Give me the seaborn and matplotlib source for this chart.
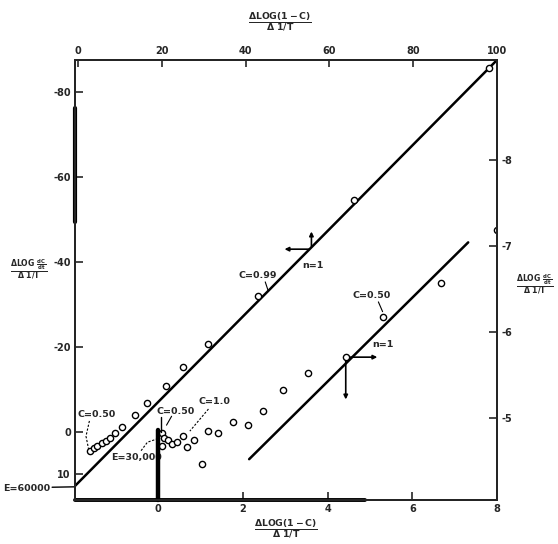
import matplotlib
matplotlib.use("Agg")
import matplotlib.pyplot as plt
import seaborn as sns
import pandas as pd

# series (bottom x scale, left y scale)
upper_x = [-1.60, -1.51, -1.43, -1.33, -1.23, -1.13, -1.01, -0.86, -0.54, -0.27,
           0.19, 0.60, 1.19, 2.37, 4.62, 7.81]
upper_y = [4.4, 3.8, 3.3, 2.6, 2.1, 1.4, 0.2, -1.2, -4.0, -6.9,
           -10.7, -15.3, -20.7, -32.1, -54.6, -85.6]
lower_x = [0.09, 0.13, 0.09, 0.24, 0.32, 0.44, 0.60, 0.68, 0.86, 1.03, 1.19,
           1.41, 1.76, 2.13, 2.47, 2.94, 3.54, 4.43, 5.31, 6.67, 8.0]
lower_y = [0.3, 1.5, 3.3, 1.9, 2.8, 2.3, 0.9, 3.6, 2.0, 7.5, -0.3,
           0.2, -2.4, -1.6, -5.0, -9.9, -13.9, -17.6, -27.1, -35.0, -47.5]

# fitted lines (n=1)
fit_upper_x = [-1.98, 8.0]
fit_upper_y = [12.9, -87.5]
fit_lower_x = [2.15, 7.32]
fit_lower_y = [6.4, -44.6]

bottom_ticks = [0, 2, 4, 6, 8]
left_ticks = [-80, -60, -40, -20, 0, 10]
top_ticks = [0, 20, 40, 60, 80, 100]
right_ticks = [-8, -7, -6, -5]

sns.set_theme(style="ticks")
plt.rcParams["font.family"] = ["DejaVu Sans"]
plt.rcParams["font.weight"] = "bold"
plt.rcParams["mathtext.default"] = "bf"

fig = plt.figure(figsize=(5.58, 5.44), dpi=100)
ax = fig.add_axes([0.1344, 0.0809, 0.7563, 0.8088])

pts = pd.DataFrame({"x": upper_x + lower_x, "y": upper_y + lower_y})
sns.scatterplot(data=pts, x="x", y="y", ax=ax, s=20, marker="o",
                facecolor="white", edgecolor="black", linewidth=1.0, zorder=4)
sns.lineplot(x=fit_upper_x, y=fit_upper_y, ax=ax, color="black", lw=1.8, zorder=3)
sns.lineplot(x=fit_lower_x, y=fit_lower_y, ax=ax, color="black", lw=1.8, zorder=3)

ax.set_xlim(-1.96, 8.0)
ax.set_ylim(16, -87.5)
ax.set_xticks(bottom_ticks)
ax.set_yticks(left_ticks)
ax.set_yticklabels([str(t) for t in left_ticks])
ax.tick_params(direction="in", length=6, width=1.2, labelsize=7, pad=3)
ax.set_xlabel("")
ax.set_ylabel("")
for s in ax.spines.values():
    s.set_linewidth(1.4)
    s.set_color("black")

# top and right scales
axt = ax.twiny()
axt.set_xlim(-0.7, 100)
axt.set_xticks(top_ticks)
axt.tick_params(direction="in", length=5, width=1.2, labelsize=7, pad=3)
axr = ax.twinx()
axr.set_ylim(-4.047, -9.163)
axr.set_yticks(right_ticks)
axr.set_yticklabels([str(t) for t in right_ticks])
axr.tick_params(direction="in", length=6, width=1.2, labelsize=7, pad=3)
for a in (axt, axr):
    for s in a.spines.values():
        s.set_linewidth(1.4)

# scan-like heavy strokes
ax.plot([0, 0], [-0.4, 16], color="black", lw=3.2, zorder=5, clip_on=False)
ax.plot([0.08, 0.08], [-3.6, 0], color="black", lw=1.0, zorder=5)
ax.plot([-1.96, -1.96], [-76.2, -49.4], color="black", lw=3.0, clip_on=False)
ax.plot([-1.96, 4.88], [16, 16], color="black", lw=2.8, clip_on=False)

# direction crosses
ax.annotate("", xy=(2.92, -43.0), xytext=(3.62, -43.0),
            arrowprops=dict(arrowstyle="-|>", color="black", lw=1.2, mutation_scale=6))
ax.annotate("", xy=(3.62, -47.8), xytext=(3.62, -43.0),
            arrowprops=dict(arrowstyle="-|>", color="black", lw=1.2, mutation_scale=6))
ax.annotate("", xy=(5.24, -17.6), xytext=(4.43, -17.6),
            arrowprops=dict(arrowstyle="-|>", color="black", lw=1.2, mutation_scale=6))
ax.annotate("", xy=(4.43, -7.0), xytext=(4.43, -17.6),
            arrowprops=dict(arrowstyle="-|>", color="black", lw=1.2, mutation_scale=6))

fs = 6.8
ax.text(3.66, -39.1, "n=1", fontsize=fs, ha="center", va="center")
ax.text(5.31, -20.5, "n=1", fontsize=fs, ha="center", va="center")
ax.text(2.36, -36.9, "C=0.99", fontsize=fs, ha="center", va="center")
ax.plot([2.53, 2.6], [-35.3, -33.2], color="black", lw=0.8)
ax.text(5.05, -32.2, "C=0.50", fontsize=fs, ha="center", va="center")
ax.plot([5.2, 5.3], [-30.6, -28.3], color="black", lw=0.8)
ax.text(1.32, -7.1, "C=1.0", fontsize=fs, ha="center", va="center")
ax.plot([1.19, 0.75], [-5.4, -0.2], color="black", lw=0.8, ls=(0, (2, 1.5)))
ax.text(0.42, -4.9, "C=0.50", fontsize=fs, ha="center", va="center")
ax.plot([0.32, 0.2], [-3.7, -1.6], color="black", lw=0.8)
ax.text(-1.44, -4.0, "C=0.50", fontsize=fs, ha="center", va="center")
ax.plot([-1.62, -1.70, -1.64], [-2.6, 1.0, 4.0], color="black", lw=0.8, ls=(0, (2, 1.5)))
ax.text(-0.5, 5.9, "E=30,000", fontsize=fs, ha="center", va="center")
ax.plot([-0.4, -0.25, 0.05], [4.4, 2.4, 1.4], color="black", lw=0.8, ls=(0, (2, 1.5)))
ax.text(-2.55, 13.2, "E=60000", fontsize=fs, ha="right", va="center", clip_on=False)
ax.plot([-2.5, -1.96], [13.0, 12.9], color="black", lw=1.0, clip_on=False)

# axis captions
lab = 9.5
side = 8
fig.text(0.502, 0.962, r"$\frac{\Delta \mathrm{LOG}(1-C)}{\Delta\ 1/T}$",
         fontsize=lab, ha="center", va="center")
fig.text(0.512, 0.030, r"$\frac{\Delta \mathrm{LOG}(1-C)}{\Delta\ 1/T}$",
         fontsize=lab, ha="center", va="center")
fig.text(0.052, 0.505, r"$\frac{\Delta \mathrm{LOG}\ \frac{dC}{dt}}{\Delta\ 1/T}$",
         fontsize=side, ha="center", va="center")
fig.text(0.958, 0.478, r"$\frac{\Delta \mathrm{LOG}\ \frac{dC}{dt}}{\Delta\ 1/T}$",
         fontsize=side, ha="center", va="center")

fig.savefig("out.png", dpi=100, facecolor="white")
